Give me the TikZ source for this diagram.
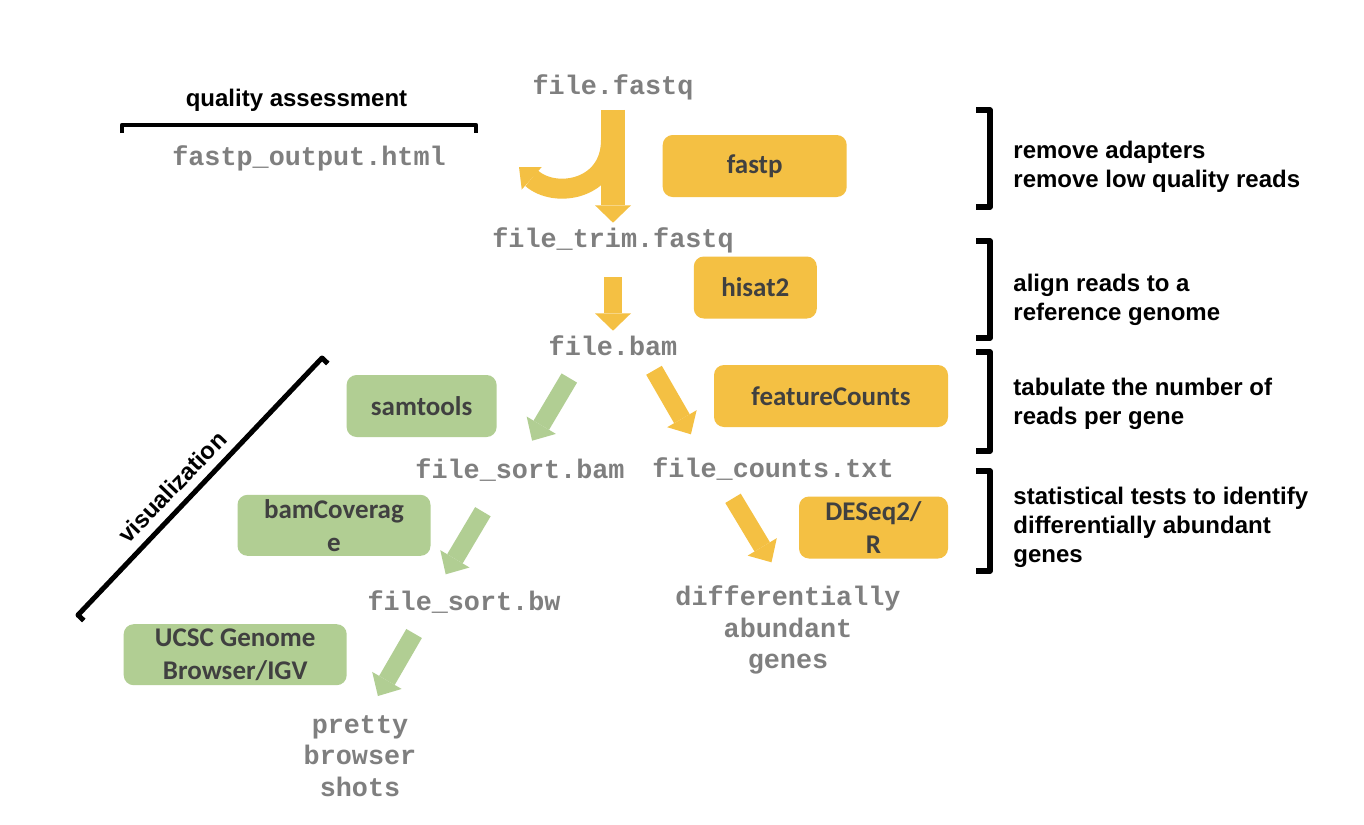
\documentclass[tikz,border=0pt]{standalone}
\usepackage{fontspec}
\usetikzlibrary{arrows.meta,calc}
\newfontfamily\monof{Liberation Mono}
\newfontfamily\carl{Carlito}
\newfontfamily\arialf{Liberation Sans}
\definecolor{ygold}{RGB}{244,192,67}
\definecolor{lgreen}{RGB}{177,206,147}
\definecolor{fgrey}{RGB}{127,127,127}
\definecolor{btext}{RGB}{64,64,64}
\begin{document}
\begin{tikzpicture}[x=0.5pt,y=-0.5pt,
  file/.style={font=\monof\bfseries\fontsize{13.4pt}{15.75pt}\selectfont, text=fgrey, inner sep=0pt, anchor=base},
  filem/.style={font=\monof\bfseries\fontsize{13.4pt}{15.75pt}\selectfont, text=fgrey, inner sep=0pt, align=center},
  tool/.style={rounded corners=5pt, inner sep=0pt, font=\carl\bfseries\fontsize{13.5pt}{16.5pt}\selectfont, text=btext, align=center, minimum height=31pt},
  ytool/.style={tool, fill=ygold},
  gtool/.style={tool, fill=lgreen},
  note/.style={font=\arialf\bfseries\fontsize{12pt}{14.5pt}\selectfont, align=left, anchor=west, inner sep=0pt},
  brk/.style={line width=2.6pt, line join=round, line cap=butt},
  arr/.style={line width=9pt, -{Triangle[width=17pt,length=9pt,line width=0pt]}},
  yarr/.style={arr, draw=ygold},
  garr/.style={arr, draw=lgreen},
]
\fill[white] (0,0) rectangle (1364,824);
\useasboundingbox (0,0) rectangle (1364,824);

% file nodes
\node[file] (fq) at (613,95) {file.fastq};
\node[file] (qc) at (309,165) {fastp\_output.html};
\node[file] (trim) at (613,247) {file\_trim.fastq};
\node[file] (bam) at (613,355) {file.bam};
\node[file] (sbam) at (520,478) {file\_sort.bam};
\node[file] (cnt) at (773,477) {file\_counts.txt};
\node[file] (sbw) at (464,610) {file\_sort.bw};
\node[filem] (diff) at (788,630) {differentially\\abundant\\genes};
\node[filem] (pretty) at (360,756) {pretty\\browser\\shots};

% tool boxes
\node[ytool, minimum width=92pt] (fastp) at (754.7,166) {fastp};
\node[ytool, minimum width=61.5pt] (hisat) at (755.3,287.5) {hisat2};
\node[ytool, minimum width=117pt] (fc) at (831,396) {featureCounts};
\node[ytool, minimum width=74.5pt] (deseq) at (873.5,527.5) {DESeq2/\\R};
\node[gtool, minimum width=75pt] (samt) at (421.6,406) {samtools};
\node[gtool, minimum width=96.5pt, minimum height=30.5pt] (bamcov) at (334,525.3) {bamCoverag\\e};
\node[gtool, minimum width=111.5pt, minimum height=30.5pt] (ucsc) at (235.2,654.7) {UCSC Genome\\Browser/IGV};

% notes
\node[font=\arialf\bfseries\fontsize{12pt}{14.5pt}\selectfont, anchor=base, inner sep=0pt] (qa) at (296.5,106) {quality assessment};
\node[note] (n1) at (1013,167) {remove adapters\\remove low quality reads};
\node[note] (n2) at (1013,299.5) {align reads to a\\reference genome};
\node[note] (n3) at (1013,404) {tabulate the number of\\reads per gene};
\node[note] (n4) at (1013,527) {statistical tests to identify\\differentially abundant\\genes};
\node[font=\arialf\bfseries\fontsize{12pt}{14.5pt}\selectfont, rotate=46, inner sep=0pt] (vis) at (172,487) {visualization};

% brackets
\draw[brk, line width=2.2pt] (122,133) -- (122,125) -- (476,125) -- (476,133);
\draw[brk] (976,110) -- (990,110) -- (990,207) -- (976,207);
\draw[brk] (976,241) -- (990,241) -- (990,338) -- (976,338);
\draw[brk] (976,352) -- (990,352) -- (990,451) -- (976,451);
\draw[brk] (976,471) -- (990,471) -- (990,571) -- (976,571);
\draw[brk, line width=2.5pt] (83.8,620.5) -- (78,615) -- (322,358) -- (327.8,363.5);

% arrows
\draw[draw=ygold, line width=10pt, -{Triangle[width=15pt,length=8.5pt,line width=0pt]}]
  ([shift={(-2,45)}]fq.base) .. controls ([shift={(-2,95)}]fq.base) and ([shift={(246,34)}]qc.base) .. ([shift={(210,2)}]qc.base);
\draw[yarr, line width=11.8pt, -{Triangle[width=18pt,length=8.7pt,line width=0pt]}] ([shift={(0,15)}]fq.base) -- ([shift={(0,-24.3)}]trim.base);
\draw[yarr, -{Triangle[width=18pt,length=8.7pt,line width=0pt]}] ([shift={(0,30.3)}]trim.base) -- ([shift={(0,-24.3)}]bam.base);
\draw[garr] ([shift={(-43.7,23)}]bam.base) -- ([shift={(12.1,-37.3)}]sbam.base);
\draw[garr] ([shift={(-37.1,33.7)}]sbam.base) -- ([shift={(-18.3,-35.7)}]sbw.base);
\draw[garr] ([shift={(-49.9,23.5)}]sbw.base) -- ([shift={(17.9,-60)}]pretty.center);
\draw[yarr] ([shift={(41,15.3)}]bam.base) -- ([shift={(-82.1,-42.7)}]cnt.base);
\draw[yarr] ([shift={(-40,21.3)}]cnt.base) -- ([shift={(-16.5,-67.7)}]diff.center);
\end{tikzpicture}
\end{document}
